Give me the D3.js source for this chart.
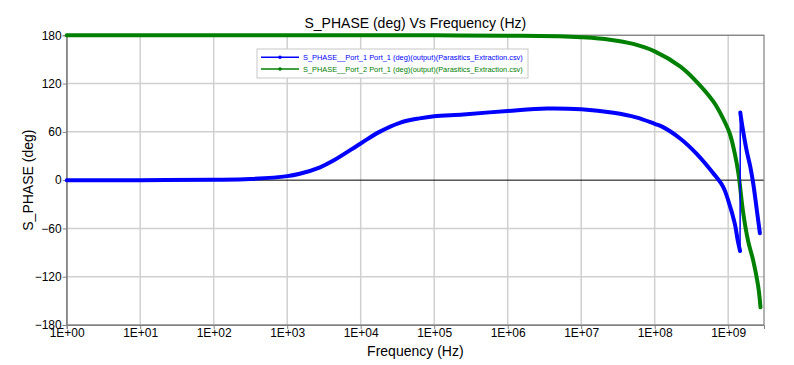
<!DOCTYPE html>
<html><head><meta charset="utf-8">
<script src="https://cdn.jsdelivr.net/npm/d3@7"></script>
<style>body{margin:0;background:#fff}svg{display:block;font-family:"Liberation Sans",Arial,sans-serif}</style>
</head><body><svg id="c" width="794" height="365"></svg>
<script>
const title = "S_PHASE (deg) Vs Frequency (Hz)";
const xTitle = "Frequency (Hz)";
const yTitle = "S_PHASE (deg)";
const xTickValues = [1e0,1e1,1e2,1e3,1e4,1e5,1e6,1e7,1e8,1e9];
const xTickLabels = ["1E+00","1E+01","1E+02","1E+03","1E+04","1E+05","1E+06","1E+07","1E+08","1E+09"];
const yTickValues = [-180,-120,-60,0,60,120,180];
const seriesNames = ["S_PHASE__Port_1 Port_1 (deg)(output)(Parasitics_Extraction.csv)",
                     "S_PHASE__Port_2 Port_1 (deg)(output)(Parasitics_Extraction.csv)"];
// Port_1 Port_1, before the wrap
const p11aFreq  = [1e0,1e1,1e2,3.16e2,1e3,1.48e3,2.8e3,4.2e3,1e4,1.8e4,3.4e4,6.3e4,1e5,2.5e5,1e6,3.4e6,1e7,2.75e7,5.6e7,1e8,1.26e8,2.24e8,3.7e8,6.3e8,8.5e8,1e9,1.23e9,1.35e9,1.45e9];
const p11aPhase = [0,0,0.5,1.5,5,8,16,24,45.6,60,71.3,76.8,79.5,81.7,86,89,88,83.7,78,70,66.5,51.5,33,8.3,-8,-25,-54,-75,-88];
// Port_1 Port_1, after the wrap
const p11bFreq  = [1.46e9,1.55e9,1.78e9,2.0e9,2.19e9,2.45e9,2.7e9];
const p11bPhase = [84,68,37,16.5,-4,-37,-66];
// Port_2 Port_1
const p21Freq  = [1e0,1e1,1e2,1e3,1e4,1e5,1e6,5e6,1e7,2.45e7,5.1e7,1e8,2.24e8,3.7e8,6.3e8,8.5e8,1.05e9,1.23e9,1.38e9,1.58e9,1.86e9,2.19e9,2.57e9,2.75e9];
const p21Phase = [180,180,180,180,180,180,179.5,178.8,177.6,174.6,169.3,160,141,122.5,97.5,76.8,58,33,8,-37,-75,-100,-133,-158];

const colors = ["#0000ff","#008000"];
const W=794,H=365, L=66.7, R=764, T=35.3, B=325;
const svg = d3.select("#c");
const x = d3.scaleLog().domain([1,3.07e9]).range([L,R]);
const y = d3.scaleLinear().domain([-180,180]).range([B,T]);

// grid
svg.append("g").selectAll("line").data(xTickValues).join("line")
  .attr("x1",d=>x(d)).attr("x2",d=>x(d)).attr("y1",T).attr("y2",B)
  .attr("stroke","#d0d0d0").attr("stroke-width",1.5);
svg.append("g").selectAll("line").data(yTickValues.filter(v=>v!==0)).join("line")
  .attr("x1",L).attr("x2",R).attr("y1",d=>y(d)).attr("y2",d=>y(d))
  .attr("stroke","#d0d0d0").attr("stroke-width",1.5);
svg.append("line").attr("x1",L).attr("x2",R).attr("y1",y(0)).attr("y2",y(0)).attr("stroke","#000").attr("stroke-width",1);

// frame
svg.append("rect").attr("x",L).attr("y",T).attr("width",R-L).attr("height",B-T)
  .attr("fill","none").attr("stroke","#808080").attr("stroke-width",1.2);

// axes
const xa = svg.append("g").attr("transform",`translate(0,${B})`)
  .call(d3.axisBottom(x).tickValues(xTickValues).tickFormat((d,i)=>xTickLabels[i]).tickSize(4).tickPadding(1));
const ya = svg.append("g").attr("transform",`translate(${L},0)`)
  .call(d3.axisLeft(y).tickValues(yTickValues).tickSize(4).tickPadding(1));
[xa,ya].forEach(a=>{a.select(".domain").attr("stroke","#808080");
  a.selectAll(".tick line").attr("stroke","#808080");
  a.selectAll("text").attr("font-size",12).attr("fill","#000").attr("font-family","Liberation Sans, Arial, sans-serif");});
xa.selectAll("text").attr("dy","0.6em");

// titles
svg.append("text").attr("x",(L+R)/2).attr("y",27.5).attr("text-anchor","middle").attr("font-size",14).text(title);
svg.append("text").attr("x",(L+R)/2).attr("y",356).attr("text-anchor","middle").attr("font-size",14).text(xTitle);
svg.append("text").attr("transform",`translate(33,${(T+B)/2}) rotate(-90)`).attr("text-anchor","middle").attr("font-size",14).text(yTitle);

// lines
svg.append("clipPath").attr("id","cp").append("rect").attr("x",L-3).attr("y",T-3).attr("width",R-L+6).attr("height",B-T+6);
const line = d3.line().x(d=>x(d[0])).y(d=>y(d[1])).curve(d3.curveCatmullRom.alpha(0.5));
const zip = (a,b)=>a.map((v,i)=>[v,b[i]]);
const g = svg.append("g").attr("clip-path","url(#cp)");
const a = zip(p11aFreq,p11aPhase), b = zip(p11bFreq,p11bPhase), c = zip(p21Freq,p21Phase);
g.append("path").attr("d",line(c)).attr("fill","none").attr("stroke",colors[1]).attr("stroke-width",4).attr("stroke-linecap","round").attr("stroke-linejoin","round");
g.append("path").attr("d",d3.line().x(d=>x(d[0])).y(d=>y(d[1]))([a[a.length-1],b[0]])).attr("fill","none").attr("stroke",colors[0]).attr("stroke-width",1.5);
[a,b].forEach(s=>g.append("path").attr("d",line(s)).attr("fill","none").attr("stroke",colors[0]).attr("stroke-width",4).attr("stroke-linecap","round").attr("stroke-linejoin","round"));

// legend
const lg = svg.append("g");
lg.append("rect").attr("x",257).attr("y",49).attr("width",271).attr("height",29).attr("fill","#fff").attr("stroke","#c8c8c8");
seriesNames.forEach((n,i)=>{
  const yy = 57.3 + i*11.7;
  lg.append("line").attr("x1",261).attr("x2",299).attr("y1",yy).attr("y2",yy).attr("stroke",colors[i]).attr("stroke-width",1.5);
  lg.append("circle").attr("cx",280).attr("cy",yy).attr("r",1.8).attr("fill",colors[i]);
  lg.append("text").attr("x",303).attr("y",yy+2.6).attr("font-size",7.4).attr("fill",colors[i]).text(n);
});
</script></body></html>
